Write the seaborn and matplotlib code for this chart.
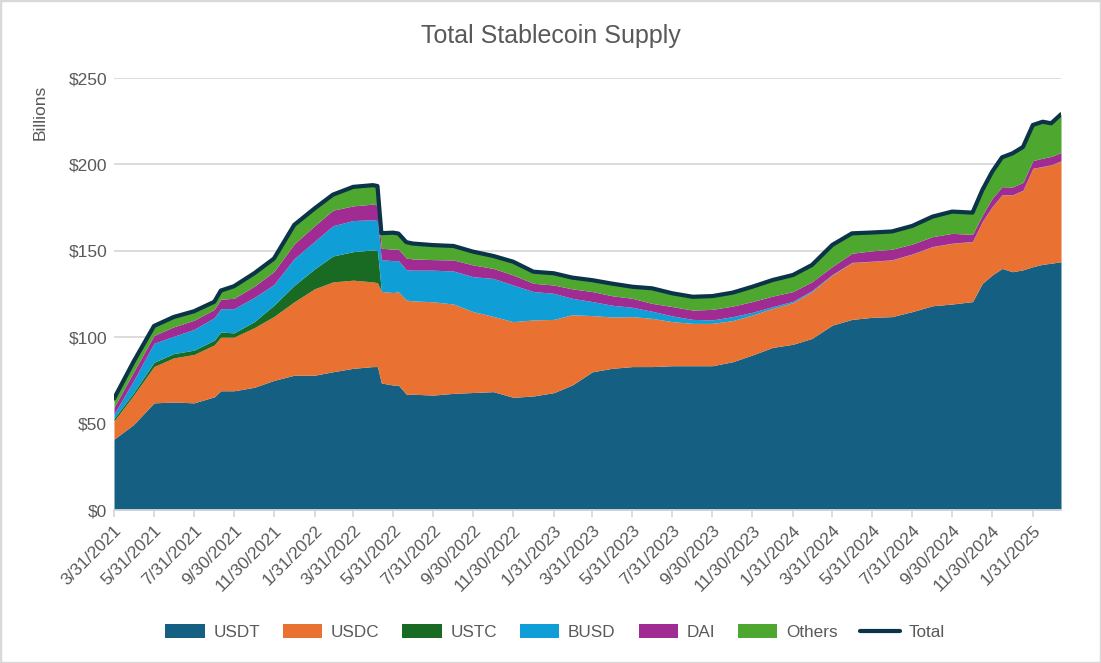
import matplotlib
matplotlib.use("Agg")
import matplotlib.pyplot as plt
import matplotlib.dates as mdates
from matplotlib.ticker import FuncFormatter, FixedLocator
from matplotlib.patches import Rectangle
import seaborn as sns
import pandas as pd

# ---------------- data (billions USD) ----------------
dates = ["2021-03-31", "2021-04-30", "2021-05-31", "2021-06-30", "2021-07-31", "2021-08-31",
         "2021-09-10", "2021-09-30", "2021-10-31", "2021-11-30", "2021-12-31", "2022-01-31",
         "2022-02-28", "2022-03-31", "2022-04-30", "2022-05-07", "2022-05-13", "2022-05-31",
         "2022-06-08", "2022-06-20", "2022-06-30", "2022-07-31", "2022-08-31", "2022-09-30",
         "2022-10-31", "2022-11-30", "2022-12-31", "2023-01-31", "2023-02-28", "2023-03-31",
         "2023-04-30", "2023-05-31", "2023-06-30", "2023-07-31", "2023-08-31", "2023-09-30",
         "2023-10-31", "2023-11-30", "2023-12-31", "2024-01-31", "2024-02-29", "2024-03-31",
         "2024-04-30", "2024-05-31", "2024-06-30", "2024-07-31", "2024-08-31", "2024-09-30",
         "2024-10-31", "2024-11-15", "2024-11-30", "2024-12-15", "2024-12-31", "2025-01-16",
         "2025-01-31", "2025-02-15", "2025-02-28", "2025-03-15"]

usdt = [41.0, 49.5, 62.0, 62.5, 62.0, 65.5, 69.0, 69.0, 71.0, 75.0, 78.0, 78.0,
        80.0, 82.0, 83.0, 83.0, 73.5, 72.3, 72.3, 67.0, 67.0, 66.5, 67.5, 68.0,
        68.5, 65.2, 66.0, 67.9, 72.3, 80.0, 82.0, 83.0, 83.0, 83.5, 83.5, 83.5,
        85.8, 89.7, 94.1, 95.9, 99.3, 107.0, 110.3, 111.5, 111.9, 114.8, 118.2, 119.2,
        120.6, 131.2, 136.0, 139.8, 137.9, 139.0, 140.8, 142.2, 142.8, 143.7]

usdc = [10.5, 17.0, 21.0, 25.5, 28.0, 30.0, 31.0, 31.0, 34.5, 37.0, 42.5, 50.0,
        52.0, 51.0, 49.0, 48.5, 53.0, 53.5, 54.0, 54.5, 54.0, 54.0, 51.7, 46.8,
        43.5, 43.8, 44.0, 42.4, 40.7, 32.5, 29.7, 28.9, 27.9, 25.5, 24.5, 24.5,
        23.8, 23.1, 22.6, 24.1, 27.1, 29.0, 32.8, 32.4, 32.8, 33.3, 34.2, 35.1,
        34.7, 35.7, 39.5, 42.5, 44.4, 46.0, 56.9, 56.5, 56.9, 58.3]

ustc = [1.5, 1.5, 2.5, 2.5, 2.5, 2.8, 3.0, 2.5, 3.5, 6.5, 9.5, 11.5,
        15.0, 16.5, 18.5, 18.5, 0.0, 0.0, 0.0, 0.0, 0.0, 0.0, 0.0, 0.0,
        0.0, 0.0, 0.0, 0.0, 0.0, 0.0, 0.0, 0.0, 0.0, 0.0, 0.0, 0.0,
        0.0, 0.0, 0.0, 0.0, 0.0, 0.0, 0.0, 0.0, 0.0, 0.0, 0.0, 0.0,
        0.0, 0.0, 0.0, 0.0, 0.0, 0.0, 0.0, 0.0, 0.0, 0.0]

busd = [2.5, 7.0, 11.0, 10.0, 12.0, 13.0, 13.5, 14.0, 14.0, 12.0, 15.5, 16.0,
        17.5, 18.0, 17.5, 17.5, 18.3, 18.5, 18.0, 17.5, 17.8, 18.3, 19.1, 20.2,
        22.0, 21.2, 16.4, 15.1, 9.5, 8.1, 6.8, 5.4, 4.1, 3.3, 2.3, 2.0,
        2.3, 1.6, 1.0, 0.8, 0.6, 0.3, 0.2, 0.1, 0.1, 0.1, 0.1, 0.1,
        0.1, 0.1, 0.1, 0.1, 0.1, 0.1, 0.1, 0.1, 0.1, 0.1]

dai = [4.0, 5.0, 4.5, 5.5, 5.3, 4.8, 5.5, 6.0, 6.5, 7.5, 8.5, 9.0,
       9.0, 8.5, 9.0, 9.0, 6.7, 6.6, 6.6, 6.8, 6.5, 6.1, 6.4, 6.8,
       5.8, 5.8, 4.8, 4.8, 5.5, 5.8, 5.5, 5.2, 4.6, 5.4, 5.4, 6.1,
       6.1, 6.2, 6.1, 5.6, 5.1, 4.6, 5.3, 6.0, 6.1, 5.7, 5.7, 5.7,
       4.1, 3.7, 4.8, 4.7, 4.5, 4.5, 4.4, 4.8, 4.8, 4.8]

others = [5.0, 6.0, 5.5, 5.7, 5.2, 4.4, 5.0, 7.0, 7.5, 7.5, 11.0, 10.0,
          9.0, 11.0, 11.0, 11.0, 8.7, 9.6, 9.1, 9.2, 8.9, 8.4, 8.1, 7.7,
          7.2, 7.7, 6.7, 6.8, 6.5, 6.6, 7.0, 6.7, 8.7, 7.7, 7.7, 7.7,
          7.8, 8.6, 9.3, 9.6, 9.7, 12.5, 11.5, 10.6, 10.3, 10.5, 11.6, 12.6,
          12.6, 14.5, 15.4, 17.0, 19.5, 20.5, 20.6, 21.1, 19.2, 22.1]

series_names = ["USDT", "USDC", "USTC", "BUSD", "DAI", "Others"]
series_colors = ["#156082", "#E97132", "#196B24", "#0F9ED5", "#A02B93", "#4EA72E"]
total_color = "#0C3449"

tick_labels = ["3/31/2021", "5/31/2021", "7/31/2021", "9/30/2021", "11/30/2021",
               "1/31/2022", "3/31/2022", "5/31/2022", "7/31/2022", "9/30/2022",
               "11/30/2022", "1/31/2023", "3/31/2023", "5/31/2023", "7/31/2023",
               "9/30/2023", "11/30/2023", "1/31/2024", "3/31/2024", "5/31/2024",
               "7/31/2024", "9/30/2024", "11/30/2024", "1/31/2025"]
y_ticks = [0, 50, 100, 150, 200, 250]

# ---------------- frame ----------------
df = pd.DataFrame({"Date": pd.to_datetime(dates), "USDT": usdt, "USDC": usdc, "USTC": ustc,
                   "BUSD": busd, "DAI": dai, "Others": others})
df["Total"] = df[series_names].sum(axis=1)

sns.set_theme(style="white")
plt.rcParams["font.family"] = ["Liberation Sans", "DejaVu Sans"]

W, H = 1101, 663
fig = plt.figure(figsize=(W / 100, H / 100), dpi=100)
ax = fig.add_axes([114 / W, 1 - 510 / H, (1061 - 114) / W, (510 - 78) / H])

ax.stackplot(df["Date"], [df[n] for n in series_names], colors=series_colors,
             labels=series_names, linewidth=0, zorder=2)
sns.lineplot(data=df, x="Date", y="Total", ax=ax, color=total_color, linewidth=3.0,
             label="Total", zorder=3)

ax.set_ylim(0, 250)
ax.set_xlim(df["Date"].iloc[0], df["Date"].iloc[-1])
ax.set_xlabel("")
ax.set_ylabel("")

ax.set_axisbelow(True)
ax.yaxis.grid(True, color="#D9D9D9", linewidth=1.3)
ax.xaxis.grid(False)
for s in ["top", "right", "left"]:
    ax.spines[s].set_visible(False)
ax.spines["bottom"].set_color("#D9D9D9")
ax.spines["bottom"].set_linewidth(1.3)
ax.spines["bottom"].set_zorder(4)

tick_dates = pd.to_datetime(tick_labels, format="%m/%d/%Y")
ax.xaxis.set_major_locator(FixedLocator(mdates.date2num(tick_dates)))
ax.set_xticklabels(tick_labels)
ax.tick_params(axis="x", which="major", direction="out", length=5, width=1.3,
               color="#D9D9D9", labelsize=12.5, labelcolor="#595959", pad=4, bottom=True)
for lbl in ax.get_xticklabels():
    lbl.set_rotation(45)
    lbl.set_ha("right")
    lbl.set_va("top")
    lbl.set_rotation_mode("anchor")

ax.yaxis.set_major_locator(FixedLocator(y_ticks))
ax.yaxis.set_major_formatter(FuncFormatter(lambda v, p: f"${v:,.0f}"))
ax.tick_params(axis="y", length=0, labelsize=12.5, labelcolor="#595959", pad=5)

# texts
fig.text(0.5, 1 - 36 / H, "Total Stablecoin Supply", ha="center", va="center",
         fontsize=18, color="#595959")
fig.text(40 / W, 1 - 85 / H, "Billions", ha="center", va="top", rotation=90,
         fontsize=12.5, color="#595959")

# legend
handles, labels = ax.get_legend_handles_labels()
order = series_names + ["Total"]
hmap = dict(zip(labels, handles))
if ax.get_legend() is not None:
    ax.get_legend().remove()
leg = fig.legend([hmap[k] for k in order], order, loc="center", ncol=7,
                 bbox_to_anchor=(555 / W, 1 - 632 / H), frameon=False, fontsize=12.3,
                 handlelength=2.3, handleheight=0.85, handletextpad=0.5,
                 columnspacing=1.35, labelcolor="#595959")

# chart border
fig.add_artist(Rectangle((0, 0), 1, 1, transform=fig.transFigure, fill=False,
                         edgecolor="#D9D9D9", linewidth=2.5))

fig.savefig("out.png", dpi=100)
